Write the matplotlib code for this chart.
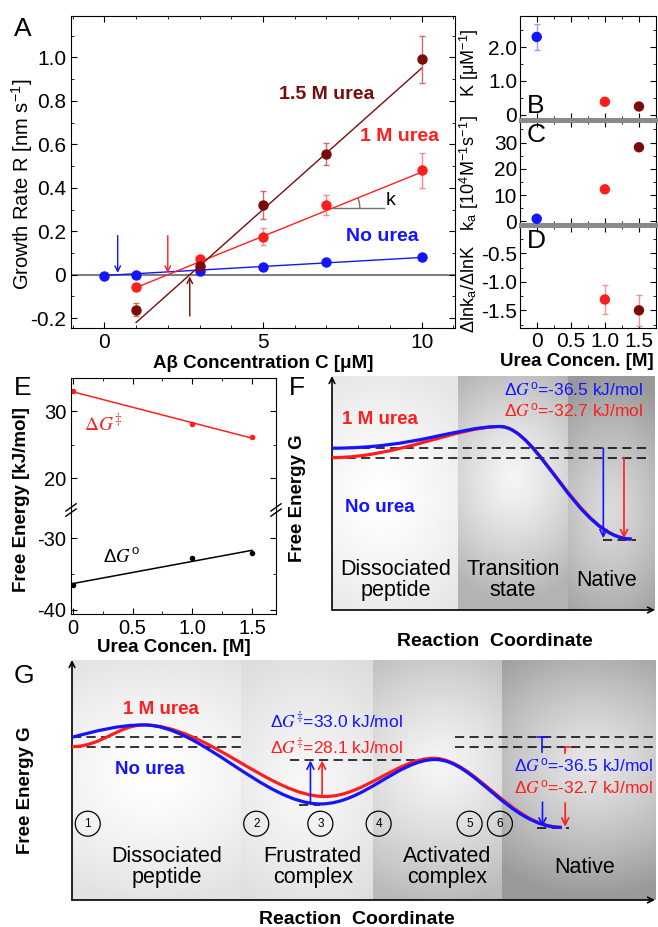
import numpy as np
import matplotlib
matplotlib.use('Agg')
import matplotlib.pyplot as plt
from matplotlib.path import Path
from matplotlib.patches import PathPatch, Arc
from matplotlib.ticker import MultipleLocator, FuncFormatter

plt.rcParams['font.family'] = ['Liberation Sans', 'DejaVu Sans']
plt.rcParams['mathtext.fontset'] = 'stix'
plt.rcParams['axes.unicode_minus'] = False

BLUE = '#1414ff'
RED = '#ff1e1e'
DARK = '#7a0b0b'

# ---- A: growth rate vs concentration
conc_none = [0, 1, 3, 5, 7, 10]
rate_none = [-0.005, 0.0, 0.015, 0.035, 0.06, 0.08]
conc_urea = [1, 3, 5, 7, 10]
rate_1m = [-0.057, 0.072, 0.175, 0.32, 0.48]
err_1m = [0.015, 0.015, 0.04, 0.045, 0.08]
rate_15m = [-0.162, 0.042, 0.32, 0.555, 0.99]
err_15m = [0.03, 0.015, 0.065, 0.05, 0.107]
# fitted lines: slope, intercept
fit_none = (0.0083, -0.0035)
fit_1m = (0.059, -0.118)
fit_15m = (0.13, -0.35)

# ---- B, C, D
urea = [0, 1.0, 1.5]
K_val = [2.3, 0.38, 0.24]
K_err = [0.38, 0.0, 0.0]
ka_val = [1.0, 12.2, 28.2]
ratio_urea = [1.0, 1.5]
ratio_val = [-1.31, -1.5]
ratio_err = [0.26, 0.27]

# ---- E
dg_ts = [33.0, 28.1, 26.1]
dg_0 = [-36.5, -32.7, -32.0]

# ---- F landscape (bezier control points, reaction coord 0..10, kJ/mol)
f_blue_x = [0, 2.6, 3.9, 5.2, 6.4, 7.6, 9.28]
f_blue_y = [0, 0, 8.7, 8.7, 8.7, -36.5, -36.5]
f_red_x = [0, 2.0, 3.9, 5.2, 6.4, 7.65, 9.28]
f_red_y = [-3.8, -3.8, 8.7, 8.7, 8.7, -36.5, -36.5]
f_regions = [0, 3.9, 7.31, 10]

# ---- G landscape
g_blue_x = [0, 0.4, 0.8, 1.23, 2.2, 3.3, 4.26, 5.0, 5.6, 6.23, 6.9, 7.5, 8.4]
g_blue_y = [0, 2.5, 5, 5, 5, -27, -27, -27, -9, -9, -9, -36.5, -36.5]
g_red_x = [0, 0.5, 0.8, 1.23, 2.3, 3.4, 4.34, 5.0, 5.6, 6.2, 6.9, 7.55, 8.4]
g_red_y = [-3.8, -3.8, 5, 5, 5, -24, -24, -24, -8.5, -8.5, -8.5, -36.5, -36.5]
g_regions = [0, 2.9, 5.17, 7.37, 10]
g_circles = ['1', '2', '3', '4', '5', '6']
g_circle_x = [0.27, 3.16, 4.26, 5.26, 6.82, 7.34]

W, H = 658, 927
fig = plt.figure(figsize=(W / 100, H / 100), dpi=100)


def box(x0, y0, x1, y1):
    return fig.add_axes([x0 / W, 1 - y1 / H, (x1 - x0) / W, (y1 - y0) / H])


def ftext(x, y, s, **kw):
    fig.text(x / W, 1 - y / H, s, **kw)


def fmt1(v, pos):
    return '0' if abs(v) < 1e-9 else '%.1f' % v


def inward(ax, size=14.5):
    ax.tick_params(which='both', direction='in', top=True, right=True, labelsize=size)
    ax.tick_params(which='major', length=4)
    ax.tick_params(which='minor', length=2.5)


# ================= A
ax = box(71, 16, 455, 328)
ax.axhline(0, color='#808080', lw=1.5, zorder=1)
xr = np.array([0, 10])
ax.plot(xr, fit_none[0] * xr + fit_none[1], color=BLUE, lw=1)
xr = np.array([1, 10])
ax.plot(xr, fit_1m[0] * xr + fit_1m[1], color=RED, lw=1)
ax.plot(xr, fit_15m[0] * xr + fit_15m[1], color=DARK, lw=1)
ax.plot(conc_none, rate_none, 'o', color=BLUE, ms=6.5, zorder=3)
ax.errorbar(conc_urea, rate_1m, yerr=err_1m, fmt='o', color=RED, ms=6.5,
            ecolor='#ff8a8a', elinewidth=1, capsize=2.5, zorder=3)
ax.errorbar(conc_urea, rate_15m, yerr=err_15m, fmt='o', color=DARK, ms=6.5,
            ecolor='#d06a6a', elinewidth=1, capsize=2.5, zorder=3)
for (m, b), col, up in [(fit_none, BLUE, False), (fit_1m, RED, False), (fit_15m, DARK, True)]:
    x0 = -b / m
    if up:
        ax.annotate('', xy=(x0, -0.008), xytext=(x0, -0.19),
                    arrowprops=dict(arrowstyle='->', color=col, lw=1, shrinkA=0, shrinkB=0))
    else:
        ax.annotate('', xy=(x0, 0.008), xytext=(x0, 0.18),
                    arrowprops=dict(arrowstyle='->', color=col, lw=1, shrinkA=0, shrinkB=0))
kx = 7.2
ky = fit_1m[0] * kx + fit_1m[1]
ax.plot([kx, 8.8], [ky, ky], color='#707070', lw=1)
ax.add_patch(Arc((kx, ky), 1.7, 0.25, theta1=0, theta2=np.degrees(np.arctan(fit_1m[0])),
                 color='#707070', lw=1))
ax.text(8.85, 0.34, 'k', fontsize=14, va='center')
ax.text(5.5, 0.81, '1.5 M urea', color=DARK, fontsize=14, fontweight='bold')
ax.text(8.05, 0.615, '1 M urea', color=RED, fontsize=14, fontweight='bold')
ax.text(7.6, 0.155, 'No urea', color=BLUE, fontsize=14, fontweight='bold')
ax.set_xlim(-1.05, 11.05)
ax.set_ylim(-0.245, 1.19)
ax.xaxis.set_major_locator(MultipleLocator(5))
ax.xaxis.set_minor_locator(MultipleLocator(1))
ax.yaxis.set_major_locator(MultipleLocator(0.2))
ax.yaxis.set_minor_locator(MultipleLocator(0.1))
ax.yaxis.set_major_formatter(FuncFormatter(fmt1))
inward(ax, 15)
ax.set_xlabel('Aβ Concentration C [μM]', fontsize=13.5, fontweight='bold', labelpad=2)
ftext(22, 184, 'Growth Rate R [nm s$^\\mathregular{-1}$]', fontsize=14.5, rotation=90,
      ha='center', va='center')
ftext(23, 29, 'A', fontsize=19, ha='center', va='center')

# ================= B, C, D
axB = box(520, 16, 656, 119)
axC = box(520, 121, 656, 224)
axD = box(520, 226, 656, 328)
axB.errorbar(urea, K_val, yerr=K_err, fmt='none', ecolor='#9a9aff', elinewidth=1, capsize=2.5)
axB.scatter(urea, K_val, c=[BLUE, RED, DARK], s=42, zorder=3)
axC.scatter(urea, ka_val, c=[BLUE, RED, DARK], s=42, zorder=3)
axD.errorbar(ratio_urea, ratio_val, yerr=ratio_err, fmt='none', ecolor='#ff9090',
             elinewidth=1, capsize=2.5)
axD.scatter(ratio_urea, ratio_val, c=[RED, DARK], s=42, zorder=3)
axB.set_ylim(-0.13, 2.92)
axC.set_ylim(-1, 38.2)
axD.set_ylim(-1.81, -0.02)
axB.yaxis.set_major_locator(MultipleLocator(1))
axB.yaxis.set_minor_locator(MultipleLocator(0.5))
axB.yaxis.set_major_formatter(FuncFormatter(fmt1))
axC.yaxis.set_major_locator(MultipleLocator(10))
axC.yaxis.set_minor_locator(MultipleLocator(5))
axD.yaxis.set_major_locator(MultipleLocator(0.5))
axD.yaxis.set_minor_locator(MultipleLocator(0.25))
axD.yaxis.set_major_formatter(FuncFormatter(fmt1))
for a in (axB, axC, axD):
    a.set_xlim(-0.245, 1.75)
    a.xaxis.set_major_locator(MultipleLocator(0.5))
    a.xaxis.set_minor_locator(MultipleLocator(0.25))
    inward(a, 15)
    a.tick_params(axis='y', pad=2)
for a in (axB, axC):
    a.tick_params(labelbottom=False)
axD.xaxis.set_major_formatter(FuncFormatter(lambda v, p: '0' if v == 0 else '%.1f' % v))
axD.tick_params(axis='x', pad=3)
axB.spines['bottom'].set(color='#8a8a8a', lw=2.2)
axC.spines['top'].set(color='#8a8a8a', lw=2.2)
axC.spines['bottom'].set(color='#8a8a8a', lw=2.2)
axD.spines['top'].set(color='#8a8a8a', lw=2.2)
ftext(577, 361, 'Urea Concen. [M]', fontsize=13.5, fontweight='bold', ha='center', va='center')
axB.text(0.05, 0.13, 'B', transform=axB.transAxes, fontsize=19, va='center')
axC.text(0.05, 0.86, 'C', transform=axC.transAxes, fontsize=19, va='center')
axD.text(0.05, 0.85, 'D', transform=axD.transAxes, fontsize=19, va='center')
ftext(469, 63, 'K [μM$^\\mathregular{-1}$]', fontsize=13, rotation=90, ha='center', va='center')
ftext(469, 173, 'k$_\\mathregular{a}$ [10$^\\mathregular{4}$M$^\\mathregular{-1}$s$^\\mathregular{-1}$]',
      fontsize=13, rotation=90, ha='center', va='center')
ftext(469, 289, 'Δlnk$_\\mathregular{a}$/ΔlnK', fontsize=13, rotation=90, ha='center', va='center')

# ================= E (broken axis)
eU = box(71, 378, 276, 510)
eL = box(71, 510, 276, 614)
eU.plot(urea, np.polyval(np.polyfit(urea, dg_ts, 1), urea), color=RED, lw=1.1)
eU.plot(urea, dg_ts, 'o', color=RED, ms=3)
eL.plot(urea, np.polyval(np.polyfit(urea, dg_0, 1), urea), color='k', lw=1.1)
eL.plot(urea, dg_0, 'o', color='k', ms=3)
eU.set_ylim(15.2, 35)
eL.set_ylim(-40.6, -26)
for a in (eU, eL):
    a.set_xlim(-0.015, 1.7)
    a.yaxis.set_major_locator(MultipleLocator(10))
    a.yaxis.set_minor_locator(MultipleLocator(5))
    a.xaxis.set_major_locator(MultipleLocator(0.5))
    a.xaxis.set_minor_locator(MultipleLocator(0.25))
    inward(a, 14.5)
eU.spines['bottom'].set_visible(False)
eL.spines['top'].set_visible(False)
eU.tick_params(which='both', bottom=False, labelbottom=False)
eL.tick_params(which='both', top=False)
eL.xaxis.set_major_formatter(FuncFormatter(lambda v, p: '0' if v == 0 else '%.1f' % v))
for xa in (0, 1):
    for dy in (-0.025, 0.025):
        eL.plot([xa - 0.025, xa + 0.025], [1 + dy - 0.035, 1 + dy + 0.035], transform=eL.transAxes,
                color='k', lw=1, clip_on=False)
eL.set_xlabel('Urea Concen. [M]', fontsize=13.5, fontweight='bold', labelpad=1)
eU.text(0.09, 28.1, '$\\mathit{\\Delta G}^{\\ddagger}$', color=RED, fontsize=14, va='center')
eL.text(0.25, -32.7, 'Δ$G^\\mathregular{o}$', color='k', fontsize=13.5, va='center')
ftext(22, 500, 'Free Energy [kJ/mol]', fontsize=13.5, fontweight='bold', rotation=90,
      ha='center', va='center')
ftext(23, 388, 'E', fontsize=19, ha='center', va='center')


# ================= shared helpers for F, G
def shade(ax, x0, x1, y0, y1, cx, cy, rx, ry, c_in, c_out):
    gx, gy = np.meshgrid(np.linspace(x0, x1, 120), np.linspace(y0, y1, 120))
    r = np.sqrt(((gx - cx) / rx) ** 2 + ((gy - cy) / ry) ** 2)
    img = c_in + (c_out - c_in) * np.clip(r, 0, 1) ** 1.3
    ax.imshow(img, extent=(x0, x1, y0, y1), origin='lower', cmap='gray', vmin=0, vmax=1,
              aspect='auto', zorder=0, interpolation='bilinear')


def curve(ax, xs, ys, color):
    verts = list(zip(xs, ys))
    codes = [Path.MOVETO] + [Path.CURVE4] * (len(verts) - 1)
    ax.add_patch(PathPatch(Path(verts, codes), fc='none', ec=color, lw=2.3, zorder=4))


def arrow(ax, x, y0, y1, color):
    ax.annotate('', xy=(x, y1), xytext=(x, y0),
                arrowprops=dict(arrowstyle='->,head_length=0.5,head_width=0.25', color=color,
                                lw=1.2, shrinkA=0, shrinkB=0), zorder=5)


def frame(ax, ylo, yhi):
    ax.set_xlim(0, 10)
    ax.set_ylim(ylo, yhi)
    ax.set_axis_off()
    ax.annotate('', xy=(0, 1), xytext=(0, 0), xycoords='axes fraction',
                arrowprops=dict(arrowstyle='->', color='k', lw=1.2, shrinkA=0, shrinkB=0))
    ax.annotate('', xy=(1, 0), xytext=(0, 0), xycoords='axes fraction',
                arrowprops=dict(arrowstyle='->', color='k', lw=1.2, shrinkA=0, shrinkB=0))


DASH = (0, (6, 3.5))

# ================= F
axF = box(332, 376, 655, 610)
fy0, fy1 = -65.0, 29.0
shade(axF, f_regions[0], f_regions[1], fy0, fy1, 1.5, -20, 3.6, 55, 1.0, 0.9)
shade(axF, f_regions[1], f_regions[2], fy0, fy1, 5.6, -12, 3.0, 50, 0.96, 0.7)
shade(axF, f_regions[2], f_regions[3], fy0, fy1, 8.6, -25, 2.6, 55, 0.86, 0.6)
axF.plot([0, 9.78], [0, 0], color='k', lw=1.1, ls=DASH, zorder=3)
axF.plot([0, 9.78], [-3.8, -3.8], color='k', lw=1.1, ls=DASH, zorder=3)
axF.plot([8.4, 9.4], [-36.9, -36.9], color='k', lw=1.1, ls=DASH, zorder=3)
curve(axF, f_red_x, f_red_y, RED)
curve(axF, f_blue_x, f_blue_y, BLUE)
arrow(axF, 8.4, 0, -36.2, BLUE)
arrow(axF, 9.04, -3.8, -36.2, RED)
axF.text(9.63, 23.4, 'Δ$G^\\mathregular{o}$=-36.5 kJ/mol', color=BLUE, fontsize=12.5,
         ha='right', va='center')
axF.text(9.63, 14.7, 'Δ$G^\\mathregular{o}$=-32.7 kJ/mol', color=RED, fontsize=12.5,
         ha='right', va='center')
axF.text(0.3, 11.4, '1 M urea', color=RED, fontsize=13.5, fontweight='bold', va='center')
axF.text(0.4, -24, 'No urea', color=BLUE, fontsize=13.5, fontweight='bold', va='center')
for xc, s in [(1.98, 'Dissociated\npeptide'), (5.61, 'Transition\nstate'), (8.5, 'Native')]:
    axF.text(xc, -53, s, fontsize=15.5, ha='center', va='center', linespacing=1.0)
frame(axF, fy0, fy1)
ftext(495, 642, 'Reaction  Coordinate', fontsize=14, fontweight='bold', ha='center', va='center')
ftext(297, 498, 'Free Energy G', fontsize=13.5, fontweight='bold', rotation=90,
      ha='center', va='center')
ftext(297, 388, 'F', fontsize=19, ha='center', va='center')

# ================= G
axG = box(72, 660, 655, 900)
gy0, gy1 = -65.9, 31.3
shade(axG, g_regions[0], g_regions[1], gy0, gy1, 1.4, -15, 2.9, 55, 1.0, 0.88)
shade(axG, g_regions[1], g_regions[2], gy0, gy1, 4.0, -20, 2.0, 60, 0.97, 0.86)
shade(axG, g_regions[2], g_regions[3], gy0, gy1, 6.3, -12, 2.3, 55, 0.96, 0.73)
shade(axG, g_regions[3], g_regions[4], gy0, gy1, 8.9, -10, 2.6, 55, 0.9, 0.6)
for yl in (0, -3.8):
    axG.plot([0, 2.97], [yl, yl], color='k', lw=1.1, ls=DASH, zorder=3)
    axG.plot([6.57, 10], [yl, yl], color='k', lw=1.1, ls=DASH, zorder=3)
axG.plot([3.74, 6.14], [-9.2, -9.2], color='k', lw=1.1, ls=DASH, zorder=3)
axG.plot([7.98, 8.52], [-36.8, -36.8], color='k', lw=1.1, ls=DASH, zorder=3)
axG.plot([3.9, 4.26], [-27.3, -27.3], color='k', lw=1.1, ls=DASH, zorder=3)
curve(axG, g_red_x, g_red_y, RED)
curve(axG, g_blue_x, g_blue_y, BLUE)
arrow(axG, 4.09, -27, -9.4, BLUE)
arrow(axG, 4.29, -24, -9.4, RED)
axG.plot([8.07, 8.07], [0, -6], color=BLUE, lw=1.2, zorder=5)
axG.plot([7.99, 8.15], [0, 0], color=BLUE, lw=1.2, zorder=5)
arrow(axG, 8.07, -26.3, -36.2, BLUE)
axG.plot([8.46, 8.46], [-3.8, -6.2], color=RED, lw=1.2, zorder=5)
axG.plot([8.46, 8.55], [-3.8, -3.8], color=RED, lw=1.2, zorder=5)
arrow(axG, 8.46, -26.6, -36.2, RED)
axG.text(3.4, 7.0, 'Δ$G^{\\ddagger}$=33.0 kJ/mol', color=BLUE, fontsize=12.5, va='center')
axG.text(3.4, -3.8, 'Δ$G^{\\ddagger}$=28.1 kJ/mol', color=RED, fontsize=12.5, va='center')
axG.text(9.97, -11.6, 'Δ$G^\\mathregular{o}$=-36.5 kJ/mol', color=BLUE, fontsize=12.5,
         ha='right', va='center')
axG.text(9.97, -20.6, 'Δ$G^\\mathregular{o}$=-32.7 kJ/mol', color=RED, fontsize=12.5,
         ha='right', va='center')
axG.text(0.88, 11.1, '1 M urea', color=RED, fontsize=13.5, fontweight='bold', va='center')
axG.text(0.74, -13.2, 'No urea', color=BLUE, fontsize=13.5, fontweight='bold', va='center')
for xc, s in zip(g_circle_x, g_circles):
    axG.text(xc, -35, s, fontsize=8.5, ha='center', va='center', zorder=6,
             bbox=dict(boxstyle='circle,pad=0.55', fc='none', ec='k', lw=0.9))
for xc, s in [(1.63, 'Dissociated\npeptide'), (4.13, 'Frustrated\ncomplex'),
              (6.44, 'Activated\ncomplex'), (8.8, 'Native')]:
    axG.text(xc, -52.7, s, fontsize=15.5, ha='center', va='center', linespacing=1.0)
frame(axG, gy0, gy1)
ftext(357, 919, 'Reaction  Coordinate', fontsize=14, fontweight='bold', ha='center', va='center')
ftext(25, 790, 'Free Energy G', fontsize=13.5, fontweight='bold', rotation=90,
      ha='center', va='center')
ftext(24, 676, 'G', fontsize=19, ha='center', va='center')

fig.savefig('out.png', dpi=100)
